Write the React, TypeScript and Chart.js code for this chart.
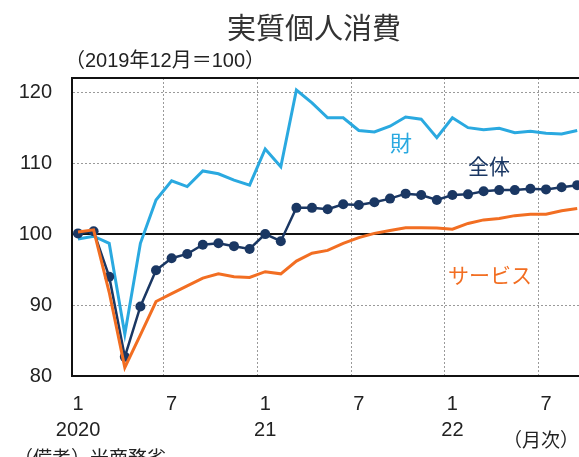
import React, { useEffect, useRef } from "react";
import { Chart, registerables } from "chart.js";

Chart.register(...registerables);

const months = [
  "2020-01", "2020-02", "2020-03", "2020-04", "2020-05", "2020-06",
  "2020-07", "2020-08", "2020-09", "2020-10", "2020-11", "2020-12",
  "2021-01", "2021-02", "2021-03", "2021-04", "2021-05", "2021-06",
  "2021-07", "2021-08", "2021-09", "2021-10", "2021-11", "2021-12",
  "2022-01", "2022-02", "2022-03", "2022-04", "2022-05", "2022-06",
  "2022-07", "2022-08", "2022-09",
];

const goods = [
  99.3, 99.7, 98.7, 85.9, 98.7, 104.8, 107.5, 106.7, 108.9, 108.5, 107.6, 106.9,
  112.0, 109.5, 120.3, 118.5, 116.4, 116.4, 114.6, 114.4, 115.2, 116.5, 116.2, 113.6,
  116.4, 115.0, 114.7, 114.9, 114.3, 114.5, 114.2, 114.1, 114.6,
];

const total = [
  100.1, 100.4, 94.0, 82.7, 89.8, 94.9, 96.6, 97.2, 98.5, 98.7, 98.3, 97.9,
  100.0, 99.0, 103.7, 103.7, 103.5, 104.2, 104.1, 104.5, 105.0, 105.7, 105.5, 104.8,
  105.5, 105.6, 106.05, 106.2, 106.2, 106.4, 106.3, 106.6, 106.9,
];

const services = [
  100.3, 100.6, 91.8, 81.2, 85.8, 90.5, 91.6, 92.7, 93.8, 94.4, 94.0, 93.9,
  94.7, 94.4, 96.2, 97.3, 97.7, 98.7, 99.5, 100.1, 100.5, 100.9, 100.9, 100.85,
  100.7, 101.5, 102.0, 102.2, 102.6, 102.8, 102.8, 103.3, 103.6,
];

const xTickMonths = ["2020-01", "2020-07", "2021-01", "2021-07", "2022-01", "2022-07"];
const xTickLabels = [["1", "2020"], ["7"], ["1", "21"], ["7"], ["1", "22"], ["7"]];
const yTicks = [80, 90, 100, 110, 120];
const baseValue = 100;

const FONT = '"Liberation Sans", "Noto Sans CJK JP", sans-serif';
const BLUE = "#2aa9e0";
const NAVY = "#1a3763";
const ORANGE = "#f26e22";

const framePlugin = {
  id: "frame",
  beforeDatasetsDraw(chart: any) {
    const { ctx, chartArea, scales } = chart;
    const { left, right, top } = chartArea;
    ctx.save();
    ctx.strokeStyle = "#111";
    ctx.lineWidth = 2;
    ctx.beginPath();
    ctx.moveTo(left - 1, top);
    ctx.lineTo(right, top);
    ctx.stroke();
    const yp = scales.y.getPixelForValue(baseValue);
    ctx.beginPath();
    ctx.moveTo(left, yp);
    ctx.lineTo(right, yp);
    ctx.stroke();
    ctx.restore();
  },
};

const App = () => {
  const ref = useRef<HTMLCanvasElement>(null);

  useEffect(() => {
    if (!ref.current) return;
    const toPts = (arr: number[]) => arr.map((v, i) => ({ x: i, y: v }));
    const labelIdx = xTickMonths.map((m) => months.indexOf(m));
    const gridIdx = labelIdx.map((i) => i - 0.5);
    const labelMap = new Map<number, string[]>();
    labelIdx.forEach((i, k) => labelMap.set(i, xTickLabels[k]));
    const xMin = -0.385;
    const xMax = 32.115;

    const chart = new Chart(ref.current, {
      type: "line",
      data: {
        datasets: [
          {
            label: "財",
            data: toPts(goods),
            borderColor: BLUE,
            borderWidth: 3,
            pointRadius: 0,
            tension: 0,
            order: 3,
          },
          {
            label: "全体",
            data: toPts(total),
            borderColor: NAVY,
            backgroundColor: NAVY,
            borderWidth: 2.5,
            pointRadius: 5,
            pointBackgroundColor: NAVY,
            pointBorderWidth: 0,
            tension: 0,
            order: 2,
          },
          {
            label: "サービス",
            data: toPts(services),
            borderColor: ORANGE,
            borderWidth: 3,
            pointRadius: 0,
            tension: 0,
            order: 1,
          },
        ],
      },
      options: {
        responsive: false,
        maintainAspectRatio: false,
        animation: false,
        devicePixelRatio: 1,
        layout: { autoPadding: false, padding: { left: 0, right: 0, top: 78, bottom: 0 } },
        plugins: {
          legend: { display: false },
          tooltip: { enabled: false },
          title: { display: false },
        },
        scales: {
          x: {
            type: "linear",
            min: xMin,
            max: xMax,
            afterBuildTicks: (s: any) => {
              const vals = [...labelIdx, ...gridIdx]
                .filter((v) => v >= xMin && v <= xMax)
                .sort((a, b) => a - b);
              s.ticks = vals.map((v) => ({ value: v }));
            },
            afterFit: (s: any) => {
              s.height = 81;
              s.paddingLeft = 0;
              s.paddingRight = 0;
            },
            ticks: {
              autoSkip: false,
              maxRotation: 0,
              minRotation: 0,
              padding: 15,
              color: "#222",
              font: { family: FONT, size: 20, lineHeight: 1.3 },
              callback: (v: any) => labelMap.get(v as number) ?? "",
            },
            grid: {
              drawTicks: false,
              lineWidth: 1,
              color: (c: any) =>
                c.tick && gridIdx.includes(c.tick.value) ? "#9a9a9a" : "rgba(0,0,0,0)",
            },
            border: { color: "#111", width: 2, dash: [2, 2] },
          },
          y: {
            type: "linear",
            min: 80,
            max: 122,
            afterBuildTicks: (s: any) => {
              s.ticks = yTicks.map((v) => ({ value: v }));
            },
            afterFit: (s: any) => {
              s.width = 72;
            },
            ticks: {
              padding: 20,
              color: "#222",
              font: { family: FONT, size: 20 },
            },
            grid: { drawTicks: false, color: "#9a9a9a", lineWidth: 1 },
            border: { color: "#111", width: 2, dash: [2, 2] },
          },
        },
      },
      plugins: [framePlugin],
    } as any);

    return () => chart.destroy();
  }, []);

  const txt = (extra: React.CSSProperties): React.CSSProperties => ({
    position: "absolute",
    fontFamily: FONT,
    lineHeight: 1,
    whiteSpace: "nowrap",
    margin: 0,
    ...extra,
  });

  return (
    <div
      style={{
        position: "fixed",
        left: 0,
        top: 0,
        width: 579,
        height: 457,
        overflow: "hidden",
        background: "#fff",
      }}
    >
      <canvas ref={ref} width={579} height={457} style={{ display: "block", position: "absolute", left: 0, top: 0 }} />
      <div style={txt({ left: 227, top: 15, fontSize: 29, color: "#333" })}>実質個人消費</div>
      <div style={txt({ left: 65, top: 50, fontSize: 20, color: "#222" })}>（2019年12月＝100）</div>
      <div style={txt({ left: 390, top: 133, fontSize: 22, color: BLUE })}>財</div>
      <div style={txt({ left: 468, top: 156, fontSize: 21, color: NAVY })}>全体</div>
      <div style={txt({ left: 448, top: 265, fontSize: 21, color: ORANGE })}>サービス</div>
      <div style={txt({ left: 503, top: 431, fontSize: 19, color: "#222" })}>（月次）</div>
      <div style={txt({ left: 14, top: 449, fontSize: 19, color: "#222" })}>（備考）米商務省</div>
    </div>
  );
};

export default App;
